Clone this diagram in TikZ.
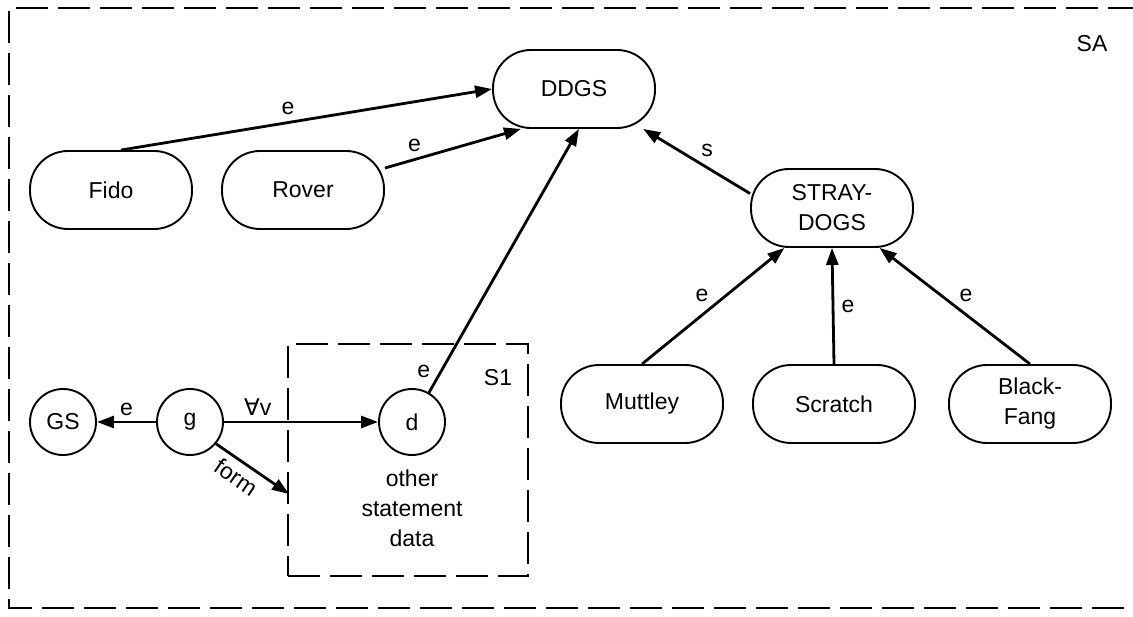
\documentclass[tikz,border=0pt]{standalone}
\usepackage{fontspec}
\setmainfont{Liberation Sans}
\newfontfamily\symfont{DejaVu Sans}
\usetikzlibrary{arrows.meta}

\begin{document}
\begin{tikzpicture}
  [x=1pt,y=-1pt,>={Triangle[length=17pt,width=12pt]},
   every node/.style={font=\fontsize{23}{30}\selectfont},
   pill/.style={draw,line width=1.9pt,rectangle,rounded corners=38pt,
     minimum width=162pt,minimum height=78pt,align=center},
   dot/.style={draw,line width=1.9pt,circle,minimum size=66pt,inner sep=0pt},
   arc/.style={->,line width=2.8pt},
   frame/.style={line width=2pt,dash pattern=on 32pt off 10pt}]
  \useasboundingbox (0,0) rectangle (1133,617);
  \draw[frame] (1140,8) -- (9,8) -- (9,608) -- (1140,608);
  \node (SA) at (1092,44) {SA};

  \node[pill] (DDGS) at (574,89) {DDGS};
  \node[pill] (Fido) at (111,190) {Fido};
  \node[pill] (Rover) at (303,190) {Rover};
  \node[pill] (STRAY) at (832,208) {STRAY-\\DOGS};
  \node[pill] (Muttley) at (642,404) {Muttley};
  \node[pill] (Scratch) at (834,404) {Scratch};
  \node[pill] (Black) at (1030,404) {Black-\\Fang};

  \node[dot] (GS) at (63,422) {GS};
  \node[dot] (g) at (190,422) {g};
  \node[dot] (d) at (412,422) {d};
  \node[frame,draw,minimum width=240pt,minimum height=232pt] (S1) at (408,460) {};
  \node (S1lab) at (498,378) {S1};
  \node[align=center] (other) at (412,508) {other\\statement\\data};
  \coordinate (formend) at (289,494);

  \draw[arc] ([xshift=10pt]Fido.north) -- node[pos=.45,above=3pt] {e} (DDGS.west);
  \draw[arc] (Rover.15) -- node[pos=.3,above left] {e} (DDGS.-143);
  \draw[arc] (d.60) -- node[pos=.08,left=6pt] {e} (DDGS.-83);
  \draw[arc] (STRAY.170) -- node[midway,above right] {s} (DDGS.-30);
  \draw[arc] (Muttley.north) -- node[midway,above left] {e} (STRAY.-140);
  \draw[arc] (Scratch.north) -- node[midway,right=4pt] {e} (STRAY.south);
  \draw[arc] (Black.north) -- node[midway,above right] {e} (STRAY.-40);
  \draw[arc] (g) -- node[midway,above=2pt] {e} (GS);
  \draw[arc] (g) -- node[pos=.22,above=2pt] {{\symfont ∀}v} (d);
  \draw[arc] (g.-40) -- node[pos=.4,below=3pt,sloped] {form} (formend);
\end{tikzpicture}
\end{document}
